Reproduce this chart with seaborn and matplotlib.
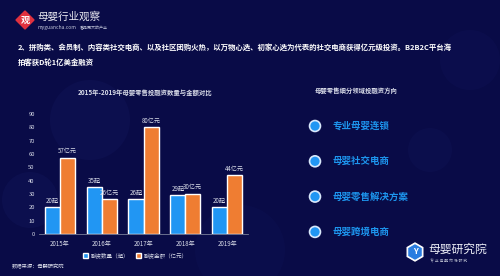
"""
母婴零售投融资 - 数量与金额对比 + 细分领域方向
"""

import pandas as pd
import matplotlib.pyplot as plt
import matplotlib.patches as mpatches
import seaborn as sns

# data
years = ['2015年', '2016年', '2017年', '2018年', '2019年']
deal_count = [20, 35, 26, 29, 20]
deal_amount = [57, 26, 80, 30, 44]
series_names = ['融资数量（起）', '融资金额（亿元）']
y_ticks = [0, 10, 20, 30, 40, 50, 60, 70, 80, 90]
directions = ['专业母婴连锁', '母婴社交电商', '母婴零售解决方案', '母婴跨境电商']

header_1 = ('2、拼购类、会员制、内容类社交电商、以及社区团购火热，以万物心选、初家心选为代表的'
            '社交电商获得亿元级投资。B2B2C平台海')
header_2 = '拍客获D轮1亿美金融资'
chart_title = '2015年-2019年母婴零售投融资数量与金额对比'
right_title = '母婴零售细分领域投融资方向'
source = '数据来源：母婴研究院'

# style
BG = '#090b47'
BLUE = '#2196f3'
ORANGE = '#ef7d32'
TXT = '#d8dbe8'
ITEM = '#1d95ee'

sns.set_theme(style='dark')
plt.rcParams['font.family'] = ['Noto Sans CJK SC', 'DejaVu Sans']
plt.rcParams['axes.unicode_minus'] = False

fig = plt.figure(figsize=(5, 2.76), dpi=100, facecolor=BG)

# background layer in pixel coordinates
bg = fig.add_axes([0, 0, 1, 1])
bg.set_xlim(0, 500)
bg.set_ylim(276, 0)
bg.axis('off')
bg.set_facecolor(BG)
for cx, cy, r, a in [(90, 120, 40, 0.10), (30, 200, 28, 0.10), (470, 60, 30, 0.07),
                     (430, 150, 22, 0.08), (240, 250, 45, 0.06)]:
    bg.add_patch(mpatches.Circle((cx, cy), r, color='#2a3590', alpha=a, lw=0))

# logo top left
bg.add_patch(mpatches.RegularPolygon((25, 20), 4, radius=9, color='#e0313f'))
bg.text(25, 20.5, '观', color='white', fontsize=6.5, ha='center', va='center', fontweight='bold')
bg.text(37, 17, '母婴行业观察', color='#e8e8f0', fontsize=7.6, ha='left', va='center')
bg.text(38, 28, 'myguancha.com', color='#c0c4d8', fontsize=3.6, ha='left', va='center')
bg.text(80, 28, '看见更大的产业', color='#c0c4d8', fontsize=2.9, ha='left', va='center')

# header text
bg.text(18, 47, header_1, color='white', fontsize=5.35, ha='left', va='center', fontweight='bold')
bg.text(18, 62, header_2, color='white', fontsize=5.35, ha='left', va='center', fontweight='bold')

# titles
bg.text(145, 93, chart_title, color=TXT, fontsize=4.6, ha='center', va='center', fontweight='bold')
bg.text(356, 90, right_title, color=TXT, fontsize=4.6, ha='center', va='center', fontweight='bold')

# right list
for i, label in enumerate(directions):
    y = 126 + i * 35.3
    bg.add_patch(mpatches.Circle((315, y), 6.3, color='#d8e8fb', lw=0))
    bg.add_patch(mpatches.Circle((315, y), 4.6, color=BLUE, lw=0))
    bg.text(333, y, label, color=ITEM, fontsize=6.8, ha='left', va='center', fontweight='bold')

# source
bg.text(12, 267, source, color=TXT, fontsize=3.8, ha='left', va='center')

# logo bottom right
bg.add_patch(mpatches.RegularPolygon((415, 252), 6, radius=9, color='white'))
bg.add_patch(mpatches.RegularPolygon((415, 252), 6, radius=7, color='#2a7de0'))
bg.text(415, 252, 'Y', color='white', fontsize=6, ha='center', va='center', fontweight='bold')
bg.text(428, 249, '母婴研究院', color='#eef0f8', fontsize=8.5, ha='left', va='center')
bg.text(430, 262, '专 业 母 婴 市 场 研 究', color='#b0b4c8', fontsize=2.8, ha='left', va='center')

# bar chart
df = pd.DataFrame({
    'year': years * 2,
    'value': deal_count + deal_amount,
    'series': [series_names[0]] * len(years) + [series_names[1]] * len(years),
})

ax = fig.add_axes([0.078, 0.152, 0.418, 0.435])
ax.set_facecolor('none')
sns.barplot(data=df, x='year', y='value', hue='series', palette=[BLUE, ORANGE],
            width=0.72, gap=0, saturation=1, ax=ax, legend=True)

suffixes = ['起', '亿元']
for cont, suf in zip(ax.containers, suffixes):
    labels = [f'{int(v)}{suf}' for v in cont.datavalues]
    ax.bar_label(cont, labels=labels, color=TXT, fontsize=4.4, padding=2)

ax.set_ylim(0, 90)
ax.set_yticks(y_ticks)
ax.set_xlabel('')
ax.set_ylabel('')
ax.tick_params(axis='both', colors=TXT, labelsize=4.2, length=0, pad=3)
ax.tick_params(axis='x', labelsize=4.4, pad=4)
ax.grid(False)
for side in ['top', 'right', 'left']:
    ax.spines[side].set_visible(False)
ax.spines['bottom'].set_color('#7a7f9a')
ax.spines['bottom'].set_linewidth(0.6)

leg = ax.legend(loc='upper center', bbox_to_anchor=(0.46, -0.11), ncol=2, frameon=False,
                fontsize=4, handlelength=1.0, handleheight=1.0, columnspacing=1.2,
                handletextpad=0.4)
for t in leg.get_texts():
    t.set_color(TXT)

fig.savefig('out.png', dpi=100, facecolor=BG)
